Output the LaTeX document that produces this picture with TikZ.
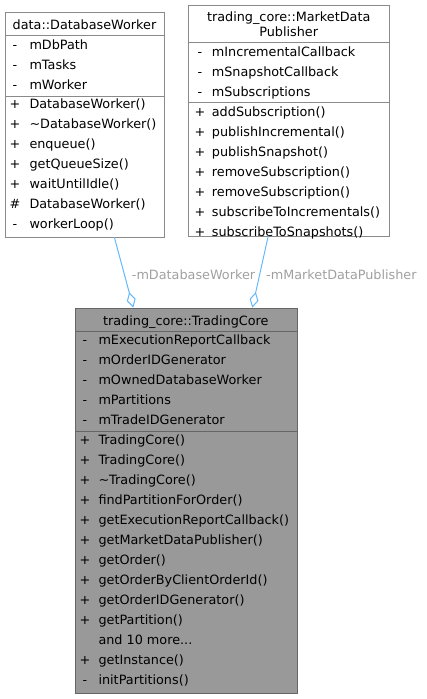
\documentclass[tikz,border=0pt]{standalone}
\usepackage{fontspec}
\setmainfont{DejaVu Sans}
\usetikzlibrary{arrows.meta}
\definecolor{edgeblue}{HTML}{63B8FF}
\definecolor{lblgray}{HTML}{A0A0A0}
\definecolor{boxline}{HTML}{8A8A8A}
\definecolor{tcfill}{HTML}{999999}
\definecolor{tcline}{HTML}{666666}
\newcommand\moredots{...}
\newcommand\hashsym{\#}
\tikzset{
  classbox/.style={draw=boxline, fill=white, line width=1pt, rectangle, inner sep=0pt, anchor=north west},
  corebox/.style={draw=tcline, fill=tcfill, line width=1pt, rectangle, inner sep=0pt, anchor=north west},
  sepline/.style={draw=boxline, line width=1pt},
  coresep/.style={draw=tcline, line width=1pt},
  txt/.style={inner sep=0pt, anchor=base west, font=\fontsize{12.8}{15}\selectfont},
  ctxt/.style={inner sep=0pt, anchor=base, font=\fontsize{12.8}{15}\selectfont},
  sym/.style={inner sep=0pt, anchor=base, font=\fontsize{12.8}{15}\selectfont},
  edgelbl/.style={inner sep=0pt, anchor=base west, text=lblgray, font=\fontsize{12.8}{15}\selectfont},
  assoc/.style={draw=edgeblue, line width=1pt, -{Diamond[open, length=16pt, width=9pt, line width=1pt]}}
}
\begin{document}
\begin{tikzpicture}[x=1pt,y=-1pt]
\useasboundingbox (0,0) rectangle (426,699);
% ---------- data::DatabaseWorker
\node[classbox, minimum width=159pt, minimum height=224.7pt] (dbw) at (5,12.3) {};
\draw[sepline] (5,35) -- (164,35);
\draw[sepline] (5,96) -- (164,96);
\node[ctxt] (dbwt) at (84.5,29.5) {data::DatabaseWorker};
\foreach \s/\t/\y [count=\i] in {-/mDbPath/44.5, -/mTasks/64.5, -/mWorker/84.5,
  +/DatabaseWorker()/104.3, +/\textasciitilde DatabaseWorker()/124.3, +/enqueue()/144.3,
  +/getQueueSize()/164.3, +/waitUntilIdle()/184.3, \hashsym/DatabaseWorker()/204.3, -/workerLoop()/224.3}{
  \node[sym] (dbws\i) at (15,\y+4.5) {\s};
  \node[txt] (dbwm\i) at (29.3,\y+4.5) {\t};
}
% ---------- trading_core::MarketDataPublisher
\node[classbox, minimum width=200.7pt, minimum height=230.7pt] (mdp) at (188.3,5) {};
\draw[sepline] (188.3,42.3) -- (389,42.3);
\draw[sepline] (188.3,102.3) -- (389,102.3);
\node[ctxt] (mdpt1) at (288.7,21.2) {trading\_core::MarketData};
\node[ctxt] (mdpt2) at (288.7,36.2) {Publisher};
\foreach \s/\t/\y [count=\i] in {-/mIncrementalCallback/51.7, -/mSnapshotCallback/71.7, -/mSubscriptions/91.7,
  +/addSubscription()/111.7, +/publishIncremental()/131.7, +/publishSnapshot()/151.7,
  +/removeSubscription()/171.7, +/removeSubscription()/191.7, +/subscribeToIncrementals()/211.7,
  +/subscribeToSnapshots()/231.7}{
  \node[sym] (mdps\i) at (200,\y+4.5) {\s};
  \node[txt] (mdpm\i) at (211.7,\y+4.5) {\t};
}
% ---------- trading_core::TradingCore
\node[corebox, minimum width=221.7pt, minimum height=385.6pt] (tc) at (75,307.7) {};
\draw[coresep] (75,331) -- (296.7,331);
\draw[coresep] (75,431.7) -- (296.7,431.7);
\node[ctxt] (tct) at (185.8,325.2) {trading\_core::TradingCore};
\foreach \s/\t/\y [count=\i] in {-/mExecutionReportCallback/340, -/mOrderIDGenerator/360,
  -/mOwnedDatabaseWorker/380, -/mPartitions/400, -/mTradeIDGenerator/420,
  +/TradingCore()/440, +/TradingCore()/460, +/\textasciitilde TradingCore()/480,
  +/findPartitionForOrder()/500, +/getExecutionReportCallback()/520, +/getMarketDataPublisher()/540,
  +/getOrder()/560, +/getOrderByClientOrderId()/580, +/getOrderIDGenerator()/600,
  +/getPartition()/620, {}/and 10 more\moredots/640, +/getInstance()/660, -/initPartitions()/680}{
  \node[sym] (tcs\i) at (85,\y+4.5) {\s};
  \node[txt] (tcm\i) at (98.3,\y+4.5) {\t};
}
% ---------- connectors
\coordinate (s1) at (114.3,237);
\coordinate (t1) at (133.3,307.7);
\coordinate (s2) at (268.3,235.7);
\coordinate (t2) at (252.3,307.7);
\draw[assoc] (s1) -- (t1);
\draw[assoc] (s2) -- (t2);
\node[edgelbl] (l1) at (131.7,279.5) {-mDatabaseWorker};
\node[edgelbl] (l2) at (266,279.5) {-mMarketDataPublisher};
\end{tikzpicture}
\end{document}
